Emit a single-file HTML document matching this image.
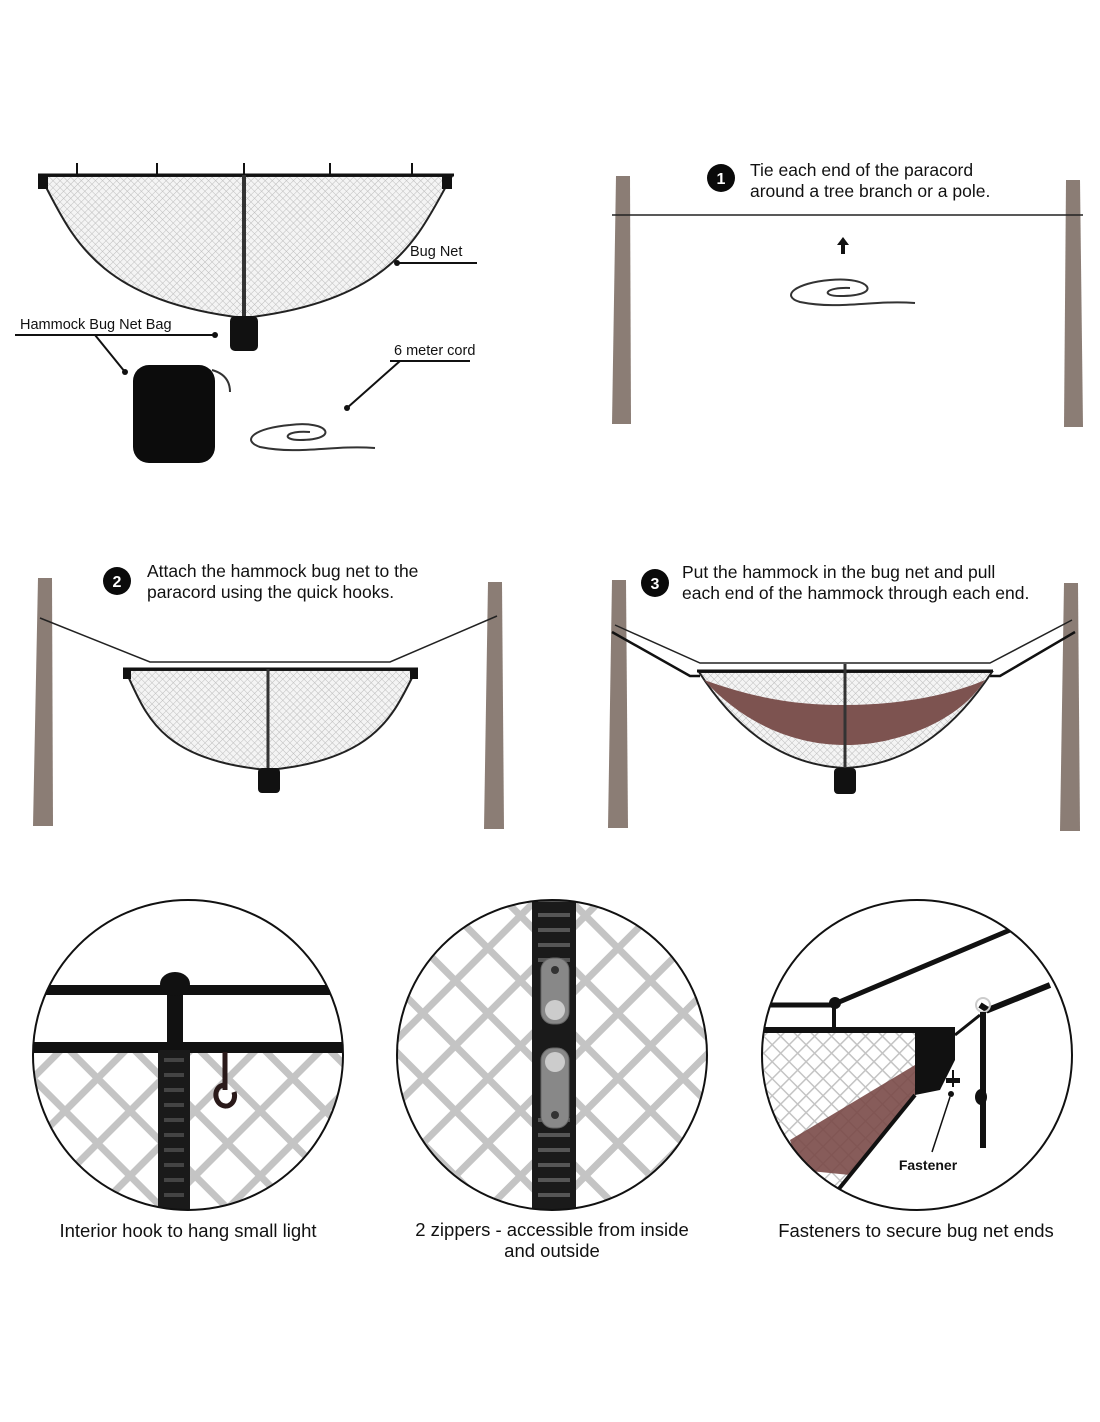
<!DOCTYPE html>
<html><head><meta charset="utf-8"><style>
html,body{margin:0;padding:0;background:#fff;}
svg{display:block}
text{font-family:"Liberation Sans",Arial,sans-serif;fill:#111}
</style></head><body>
<svg width="1100" height="1422" viewBox="0 0 1100 1422" xmlns="http://www.w3.org/2000/svg">
<defs>
<pattern id="fine" width="5" height="5" patternUnits="userSpaceOnUse" patternTransform="rotate(45)">
<rect width="5" height="5" fill="#f4f4f4"/><path d="M0 0H5M0 0V5" stroke="#bdbdbd" stroke-width="1"/>
</pattern>
<pattern id="big" width="46" height="46" patternUnits="userSpaceOnUse" patternTransform="rotate(45)">
<rect width="46" height="46" fill="#fff"/><path d="M0 0H46M0 0V46" stroke="#c4c4c4" stroke-width="14"/>
</pattern>
<pattern id="mid" width="12" height="12" patternUnits="userSpaceOnUse" patternTransform="rotate(45)">
<rect width="12" height="12" fill="#fff"/><path d="M0 0H12M0 0V12" stroke="#c4c4c4" stroke-width="3"/>
</pattern>
<clipPath id="c1"><circle cx="188" cy="1055" r="155"/></clipPath>
<clipPath id="c2"><circle cx="552" cy="1055" r="155"/></clipPath>
<clipPath id="c3"><circle cx="917" cy="1055" r="155"/></clipPath>
</defs>

<!-- TOP LEFT -->
<path d="M40 176 H452 C420 230 400 300 244 318 C90 300 70 230 40 176Z" fill="url(#fine)" stroke="#222" stroke-width="2"/>
<line x1="38" y1="175" x2="454" y2="175" stroke="#111" stroke-width="3"/>
<g stroke="#111" stroke-width="2"><line x1="77" y1="163" x2="77" y2="175"/><line x1="157" y1="163" x2="157" y2="175"/><line x1="244" y1="163" x2="244" y2="175"/><line x1="330" y1="163" x2="330" y2="175"/><line x1="412" y1="163" x2="412" y2="175"/></g>
<rect x="38" y="175" width="10" height="14" fill="#111"/><rect x="442" y="175" width="10" height="14" fill="#111"/>
<line x1="244" y1="175" x2="244" y2="318" stroke="#333" stroke-width="4"/>
<rect x="230" y="316" width="28" height="35" rx="5" fill="#111"/>
<text x="410" y="256" font-size="14.5">Bug Net</text>
<line x1="397" y1="263" x2="477" y2="263" stroke="#111" stroke-width="2"/><circle cx="397" cy="263" r="3" fill="#111"/>
<text x="20" y="329" font-size="14.5">Hammock Bug Net Bag</text>
<line x1="15" y1="335" x2="215" y2="335" stroke="#111" stroke-width="2"/><circle cx="215" cy="335" r="3" fill="#111"/>
<line x1="95" y1="335" x2="125" y2="372" stroke="#111" stroke-width="2"/><circle cx="125" cy="372" r="3" fill="#111"/>
<rect x="133" y="365" width="82" height="98" rx="16" fill="#0c0c0c"/>
<path d="M212 370 Q230 375 230 392" stroke="#333" stroke-width="2" fill="none"/>
<text x="394" y="355" font-size="14.5">6 meter cord</text>
<line x1="390" y1="361" x2="470" y2="361" stroke="#111" stroke-width="2"/>
<line x1="400" y1="361" x2="347" y2="408" stroke="#111" stroke-width="2"/><circle cx="347" cy="408" r="3" fill="#111"/>
<path d="M375 448 C330 445 300 455 260 447 C240 440 255 428 290 425 C330 420 340 440 300 440 C280 440 285 430 310 432" stroke="#333" stroke-width="2" fill="none"/>

<!-- TOP RIGHT -->
<path d="M616 176 H630 L631 424 H612Z" fill="#8b7d75"/>
<path d="M1066 180 H1080 L1083 427 H1064Z" fill="#8b7d75"/>
<line x1="612" y1="215" x2="1083" y2="215" stroke="#222" stroke-width="1.5"/>
<circle cx="721" cy="178" r="14" fill="#0a0a0a"/><text x="721" y="184" font-size="16" font-weight="bold" style="fill:#fff" text-anchor="middle">1</text>
<text x="750" y="176" font-size="17.5">Tie each end of the paracord</text>
<text x="750" y="197" font-size="17.5">around a tree branch or a pole.</text>
<path d="M843 237 l-6 8 h4 v9 h4 v-9 h4Z" fill="#111"/>
<path d="M915 303 C870 300 840 310 800 302 C780 296 795 283 830 280 C870 276 885 296 840 296 C820 296 825 287 850 288" stroke="#333" stroke-width="2" fill="none"/>

<!-- MIDDLE LEFT -->
<path d="M38 578 H52 L53 826 H33Z" fill="#8b7d75"/>
<path d="M488 582 H502 L504 829 H484Z" fill="#8b7d75"/>
<polyline points="40,618 150,662 390,662 497,616" stroke="#222" stroke-width="1.5" fill="none"/>
<path d="M125 670 H416 C395 710 380 760 268 770 C155 760 145 710 125 670Z" fill="url(#fine)" stroke="#222" stroke-width="2"/>
<line x1="123" y1="669" x2="418" y2="669" stroke="#111" stroke-width="3"/>
<rect x="123" y="669" width="8" height="10" fill="#111"/><rect x="410" y="669" width="8" height="10" fill="#111"/>
<line x1="268" y1="669" x2="268" y2="770" stroke="#333" stroke-width="3"/>
<rect x="258" y="768" width="22" height="25" rx="4" fill="#111"/>
<circle cx="117" cy="581" r="14" fill="#0a0a0a"/><text x="117" y="587" font-size="16" font-weight="bold" style="fill:#fff" text-anchor="middle">2</text>
<text x="147" y="577" font-size="17.5">Attach the hammock bug net to the</text>
<text x="147" y="598" font-size="17.5">paracord using the quick hooks.</text>

<!-- MIDDLE RIGHT -->
<path d="M612 580 H626 L628 828 H608Z" fill="#8b7d75"/>
<path d="M1064 583 H1078 L1080 831 H1060Z" fill="#8b7d75"/>
<polyline points="615,625 700,663 990,663 1072,620" stroke="#222" stroke-width="1.5" fill="none"/>
<polyline points="612,632 690,676 700,676" stroke="#111" stroke-width="2.5" fill="none"/>
<polyline points="1075,632 1000,676 990,676" stroke="#111" stroke-width="2.5" fill="none"/>
<path d="M699 672 H992 C960 720 915 765 845 768 C775 765 730 720 699 672Z" fill="url(#fine)" stroke="#222" stroke-width="2"/>
<path d="M704 680 C760 700 800 705 845 705 C900 705 950 695 985 680 C960 720 900 745 845 745 C790 745 740 720 704 680Z" fill="#7d5350"/>
<line x1="697" y1="671" x2="993" y2="671" stroke="#111" stroke-width="3"/>
<line x1="845" y1="664" x2="845" y2="768" stroke="#333" stroke-width="3"/>
<rect x="834" y="768" width="22" height="26" rx="4" fill="#111"/>
<circle cx="655" cy="583" r="14" fill="#0a0a0a"/><text x="655" y="589" font-size="16" font-weight="bold" style="fill:#fff" text-anchor="middle">3</text>
<text x="682" y="578" font-size="17.5">Put the hammock in the bug net and pull</text>
<text x="682" y="599" font-size="17.5">each end of the hammock through each end.</text>

<!-- CIRCLE 1 -->
<g clip-path="url(#c1)">
<rect x="30" y="1050" width="320" height="170" fill="url(#big)"/>
<rect x="30" y="985" width="320" height="10" fill="#111"/>
<rect x="30" y="1042" width="320" height="11" fill="#111"/>
<rect x="158" y="1050" width="32" height="170" fill="#1a1a1a"/>
<path d="M164 1060h20M164 1075h20M164 1090h20M164 1105h20M164 1120h20M164 1135h20M164 1150h20M164 1165h20M164 1180h20M164 1195h20" stroke="#444" stroke-width="4"/>
<rect x="167" y="992" width="16" height="52" fill="#111"/>
<ellipse cx="175" cy="984" rx="15" ry="12" fill="#111"/>
<path d="M225 1052 V1090 M225 1085 C215 1085 213 1098 220 1104 C228 1110 237 1102 234 1092" stroke="#2a1a1a" stroke-width="5" fill="none"/>
</g>
<circle cx="188" cy="1055" r="155" fill="none" stroke="#111" stroke-width="2"/>
<text x="188" y="1237" font-size="18.5" text-anchor="middle">Interior hook to hang small light</text>

<!-- CIRCLE 2 -->
<g clip-path="url(#c2)">
<rect x="395" y="898" width="315" height="315" fill="url(#big)"/>
<rect x="532" y="895" width="44" height="320" fill="#1a1a1a"/>
<path d="M538 900h32M538 915h32M538 930h32M538 945h32M538 960h32M538 1120h32M538 1135h32M538 1150h32M538 1165h32M538 1180h32M538 1195h32" stroke="#555" stroke-width="4"/>
<rect x="541" y="958" width="28" height="66" rx="12" fill="#888" stroke="#666"/>
<circle cx="555" cy="1010" r="10" fill="#ccc"/><circle cx="555" cy="970" r="4" fill="#333"/>
<rect x="541" y="1048" width="28" height="80" rx="12" fill="#888" stroke="#666"/>
<circle cx="555" cy="1062" r="10" fill="#ccc"/><circle cx="555" cy="1115" r="4" fill="#333"/>
</g>
<circle cx="552" cy="1055" r="155" fill="none" stroke="#111" stroke-width="2"/>
<text x="552" y="1236" font-size="18.5" text-anchor="middle">2 zippers - accessible from inside</text>
<text x="552" y="1257" font-size="18.5" text-anchor="middle">and outside</text>

<!-- CIRCLE 3 -->
<g clip-path="url(#c3)">
<path d="M760 1033 H935 V1052 L918 1058 L915 1095 L838 1188 L760 1190Z" fill="url(#mid)"/>
<path d="M790 1140 L915 1065 L915 1095 L850 1175 L800 1170Z" fill="#7a4a48" opacity="0.9"/>
<line x1="915" y1="1095" x2="838" y2="1190" stroke="#111" stroke-width="4"/>
<polyline points="760,1005 832,1005 1010,930" stroke="#111" stroke-width="5" fill="none"/>
<circle cx="835" cy="1003" r="6" fill="#111"/>
<line x1="834" y1="1005" x2="834" y2="1030" stroke="#111" stroke-width="4"/>
<line x1="760" y1="1030" x2="945" y2="1030" stroke="#111" stroke-width="6"/>
<path d="M915 1027 H955 V1060 L940 1090 L915 1095 Z" fill="#111"/>
<line x1="955" y1="1035" x2="980" y2="1015" stroke="#111" stroke-width="3"/>
<polyline points="980,1005 988,1010 1050,985" stroke="#111" stroke-width="6" fill="none"/>
<circle cx="983" cy="1005" r="7" fill="none" stroke="#ccc" stroke-width="2"/>
<path d="M983 1012 V1148" stroke="#111" stroke-width="6"/>
<ellipse cx="981" cy="1097" rx="6" ry="8" fill="#111"/>
<rect x="946" y="1078" width="14" height="5" fill="#111"/><line x1="953" y1="1070" x2="953" y2="1087" stroke="#111" stroke-width="2"/>
<circle cx="951" cy="1094" r="3" fill="#111"/>
<line x1="950" y1="1097" x2="932" y2="1152" stroke="#111" stroke-width="1.5"/>
</g>
<circle cx="917" cy="1055" r="155" fill="none" stroke="#111" stroke-width="2"/>
<text x="928" y="1170" font-size="14" font-weight="bold" text-anchor="middle">Fastener</text>
<text x="916" y="1237" font-size="18.5" text-anchor="middle">Fasteners to secure bug net ends</text>
</svg>
</body></html>
